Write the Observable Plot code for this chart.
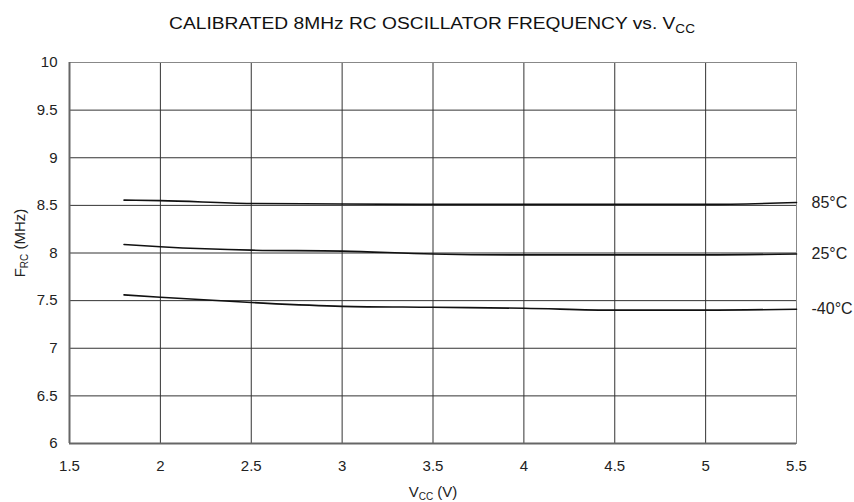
<!DOCTYPE html>
<html><head><meta charset="utf-8">
<script src="https://cdn.jsdelivr.net/npm/d3@7"></script>
<script src="https://cdn.jsdelivr.net/npm/@observablehq/plot@0.6"></script>
<style>body{margin:0;background:#fff}</style>
</head><body><div id="chart"></div>
<script>
const vcc = [1.8, 2, 2.5, 3, 3.5, 4, 4.5, 5, 5.5];
const f85 = [8.555, 8.55, 8.52, 8.515, 8.51, 8.51, 8.51, 8.51, 8.53];
const f25 = [8.09, 8.066, 8.03, 8.02, 7.99, 7.98, 7.98, 7.98, 7.99];
const fm40 = [7.56, 7.535, 7.48, 7.44, 7.43, 7.42, 7.40, 7.40, 7.41];
const seriesNames = ["85°C", "25°C", "-40°C"];
const seriesValues = [f85, f25, fm40];
const xTicks = [1.5, 2, 2.5, 3, 3.5, 4, 4.5, 5, 5.5];
const yTicks = [6, 6.5, 7, 7.5, 8, 8.5, 9, 9.5, 10];

const rows = seriesNames.flatMap((s, i) => vcc.map((v, j) => ({series: s, vcc: v, f: seriesValues[i][j]})));
const ends = seriesNames.map((s, i) => ({series: s, vcc: vcc[vcc.length - 1], f: seriesValues[i][vcc.length - 1]}));
const font = "'Liberation Sans', Arial, sans-serif";

const plot = Plot.plot({
  width: 854, height: 502,
  marginLeft: 69, marginRight: 58, marginTop: 62, marginBottom: 59,
  style: {fontFamily: font, fontSize: "15px", color: "#222", background: "#fff"},
  x: {domain: [1.5, 5.5]},
  y: {domain: [6, 10]},
  marks: [
    Plot.gridX(xTicks, {stroke: "#333", strokeOpacity: 1, strokeWidth: 1}),
    Plot.gridY(yTicks, {stroke: "#333", strokeOpacity: 1, strokeWidth: 1}),
    Plot.frame({stroke: "#888", strokeWidth: 1}),
    Plot.ruleX([1.5], {stroke: "#666", strokeWidth: 2}),
    Plot.ruleY([6], {stroke: "#666", strokeWidth: 2}),
    Plot.axisX(xTicks, {tickSize: 0, tickPadding: 17, fontSize: 15, label: null, tickFormat: d => String(d), fill: "#222"}),
    Plot.axisY(yTicks, {tickSize: 0, tickPadding: 12, fontSize: 15, label: null, tickFormat: d => String(d), fill: "#222"}),
    Plot.line(rows, {x: "vcc", y: "f", z: "series", stroke: "#111", strokeWidth: 1.6, curve: "monotone-x"}),
    Plot.text(ends, {x: "vcc", y: "f", text: "series", dx: 15, textAnchor: "start", fontSize: 16, fill: "#222"})
  ]
});
document.getElementById("chart").appendChild(plot);

const svg = d3.select(plot);
// Title (horizontally stretched to match reference glyph widths)
const tg = svg.append("g").attr("transform", "translate(432,29) scale(1.13,1)");
const t = tg.append("text").attr("x", 0).attr("y", 0).attr("text-anchor", "middle")
  .attr("font-family", font).attr("font-size", 17).attr("fill", "#111");
t.append("tspan").text("CALIBRATED 8MHz RC OSCILLATOR FREQUENCY vs. V");
t.append("tspan").attr("font-size", 12).attr("dy", 4).text("CC");
// Y label
const yl = svg.append("text").attr("transform", "translate(25,243) rotate(-90)").attr("text-anchor", "middle")
  .attr("font-family", font).attr("font-size", 15).attr("fill", "#222");
yl.append("tspan").text("F");
yl.append("tspan").attr("font-size", 10).attr("dy", 3).text("RC");
yl.append("tspan").attr("dy", -3).text(" (MHz)");
// X label
const xl = svg.append("text").attr("x", 433).attr("y", 497).attr("text-anchor", "middle")
  .attr("font-family", font).attr("font-size", 15).attr("fill", "#222");
xl.append("tspan").text("V");
xl.append("tspan").attr("font-size", 10).attr("dy", 3).text("CC");
xl.append("tspan").attr("dy", -3).text(" (V)");
</script></body></html>
